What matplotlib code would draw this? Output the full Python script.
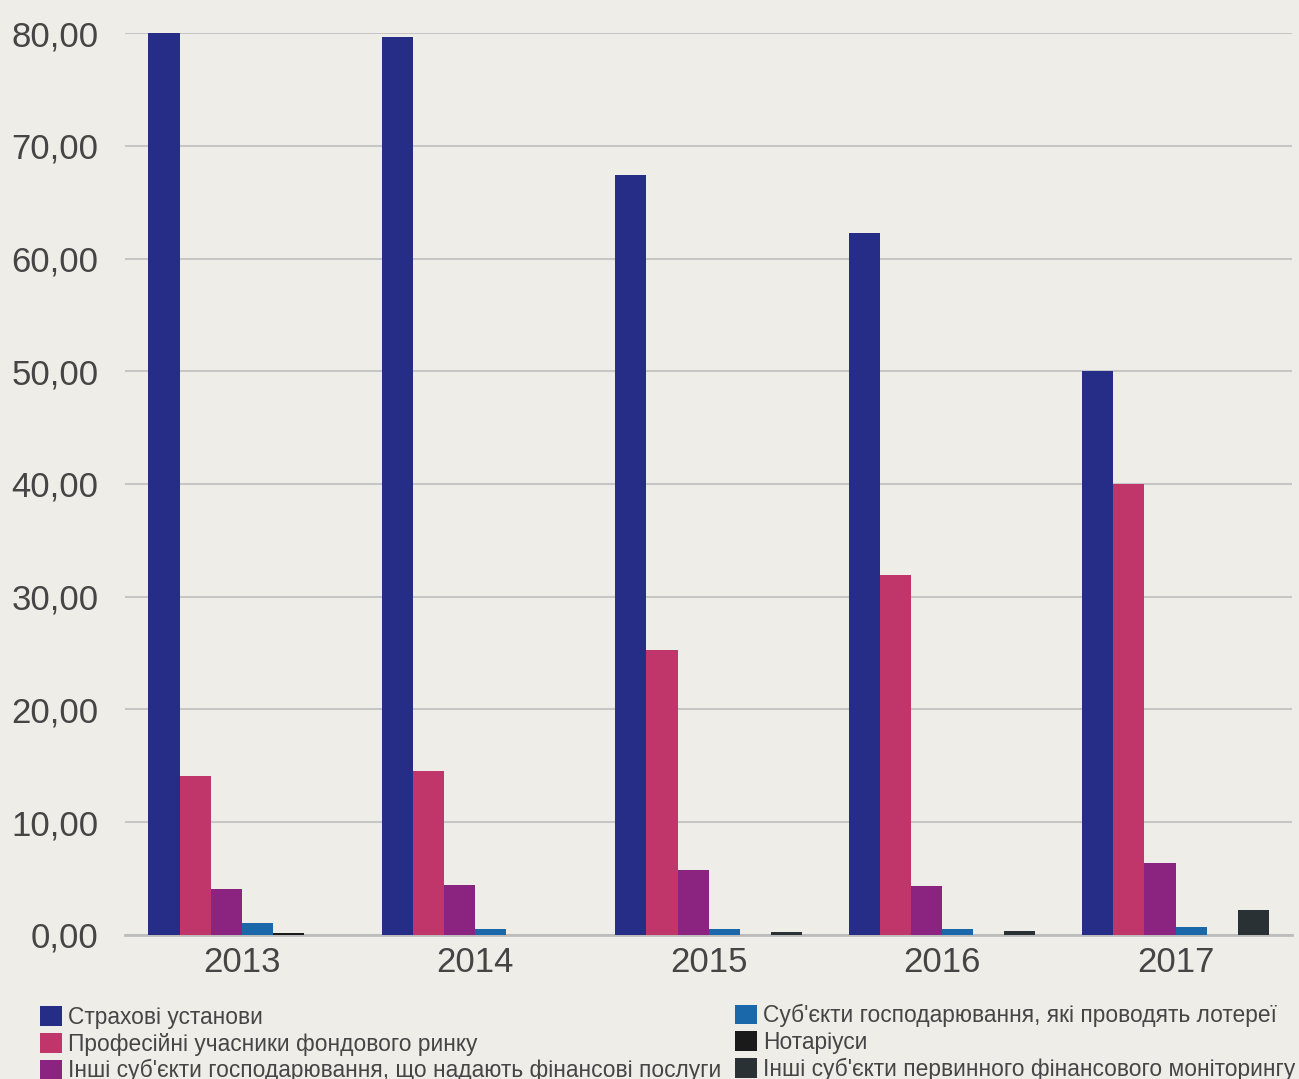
import numpy as np
import matplotlib.pyplot as plt
from matplotlib.patches import Patch

plt.rcParams['font.family'] = ['Liberation Sans', 'DejaVu Sans']

years = ['2013', '2014', '2015', '2016', '2017']
series_names = [
    'Страхові установи',
    'Професійні учасники фондового ринку',
    "Інші суб'єкти господарювання, що надають фінансові послуги",
    "Суб'єкти господарювання, які проводять лотереї",
    'Нотаріуси',
    "Інші суб'єкти первинного фінансового моніторингу",
]
strakhovi = [80.0, 79.65, 67.4, 62.25, 50.0]
fondovyi = [14.1, 14.55, 25.3, 31.9, 40.0]
finposluhy = [4.1, 4.45, 5.8, 4.3, 6.4]
loterei = [1.05, 0.55, 0.5, 0.5, 0.7]
notariusy = [0.15, 0.0, 0.0, 0.0, 0.0]
inshi = [0.0, 0.0, 0.3, 0.35, 2.2]
yticks = [0, 10, 20, 30, 40, 50, 60, 70, 80]

colors = ['#262d86', '#c0366a', '#8b2381', '#1a68aa', '#1b1a1a', '#2a3135']
bg = '#eeede8'
text_col = '#454545'

data = [strakhovi, fondovyi, finposluhy, loterei, notariusy, inshi]

fig = plt.figure(figsize=(12.99, 10.79), dpi=100, facecolor=bg)
ax = fig.add_axes([0.0963, 0.1335, 0.8985, 0.8359])
ax.set_facecolor(bg)

x = np.arange(len(years))
n = len(data)
w = 0.8 / n
for i, vals in enumerate(data):
    ax.bar(x - 0.4 + w * (i + 0.5), vals, width=w, color=colors[i],
           zorder=3, label=series_names[i])

ax.set_xlim(-0.5, len(years) - 0.5)
ax.set_ylim(0, 80)
ax.set_yticks(yticks)
ax.set_yticklabels([f'{v:.2f}'.replace('.', ',') for v in yticks])
ax.set_xticks(x)
ax.set_xticklabels(years)
ax.yaxis.grid(True, color='#c6c6c6', linewidth=1.5, zorder=0)
ax.tick_params(axis='both', length=0, labelsize=25, colors=text_col)
ax.tick_params(axis='y', pad=19)
ax.tick_params(axis='x', pad=8)
for side in ['top', 'right', 'left']:
    ax.spines[side].set_visible(False)
ax.spines['bottom'].set_color('#bdbdbd')
ax.spines['bottom'].set_linewidth(2)

handles = [Patch(facecolor=c) for c in colors]
leg_kw = dict(frameon=False, fontsize=16.4, handlelength=0.95, handleheight=0.95,
              handletextpad=0.3, labelspacing=0.16, borderpad=0,
              borderaxespad=0, labelcolor=text_col)
fig.legend(handles[:3], series_names[:3], loc='upper left',
           bbox_to_anchor=(40 / 1299, 1 - 1006 / 1079), **leg_kw)
fig.legend(handles[3:], series_names[3:], loc='upper left',
           bbox_to_anchor=(735 / 1299, 1 - 1004 / 1079), **leg_kw)

fig.savefig('out.png', dpi=100, facecolor=bg)
